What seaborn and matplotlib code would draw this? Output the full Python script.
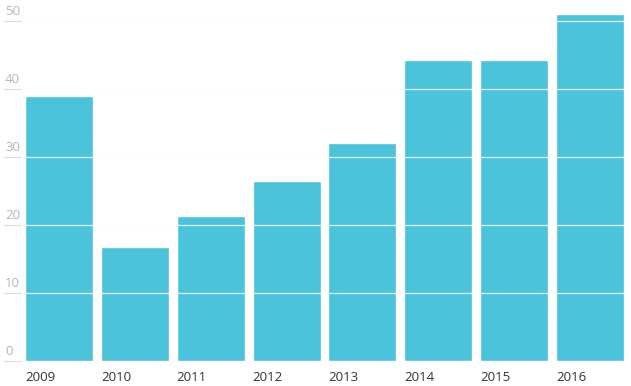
import matplotlib
matplotlib.use("Agg")
import matplotlib.pyplot as plt
import matplotlib.transforms as mtransforms
import seaborn as sns
import pandas as pd

years = ["2009", "2010", "2011", "2012", "2013", "2014", "2015", "2016"]
values = [39.0, 16.8, 21.3, 26.5, 32.1, 44.3, 44.3, 51.0]
yticks = [0, 10, 20, 30, 40, 50]

sns.set_style("white")
plt.rcParams["font.family"] = ["Open Sans", "DejaVu Sans"]

W, H = 631, 386
fig = plt.figure(figsize=(W / 100, H / 100), dpi=100)
ax = fig.add_axes([25 / W, 25 / H, 599 / W, 361 / H])

df = pd.DataFrame({"year": years, "value": values})
bw = 0.895
sns.barplot(data=df, x="year", y="value", color="#4BC3DA", saturation=1,
            width=bw, ax=ax, zorder=2)

ax.set_xlim(-bw / 2, len(years) - 1 + bw / 2)
ax.set_ylim(0, 53.1)
for s in ax.spines.values():
    s.set_visible(False)
ax.set_xticks([])
ax.set_yticks([])
ax.set_xlabel("")
ax.set_ylabel("")

# gridlines: faint behind, white over bars
for v in yticks[1:]:
    ax.axhline(v, color="#f4f4f4", lw=0.8, zorder=1)
    ax.axhline(v, color="white", lw=0.9, alpha=0.85, zorder=3)

# y labels at far left with short gray rule underneath
trans = mtransforms.blended_transform_factory(fig.transFigure, ax.transData)
for v in yticks:
    fig.lines.append(plt.Line2D([4 / W, 21 / W], [v, v], transform=trans,
                                color="#dddddd", lw=0.8))
    ax.annotate(str(v), xy=(5 / W, v), xycoords=trans, xytext=(0, 2.5),
                textcoords="offset points", ha="left", va="bottom",
                fontsize=9.5, color="#b5b5b5")

# x labels left-aligned under each bar
for i, y in enumerate(years):
    ax.annotate(y, xy=(i - bw / 2, 0), xycoords="data", xytext=(0, -7),
                textcoords="offset points", ha="left", va="top",
                fontsize=9.5, color="#333333", annotation_clip=False)

fig.savefig("out.png", dpi=100)
